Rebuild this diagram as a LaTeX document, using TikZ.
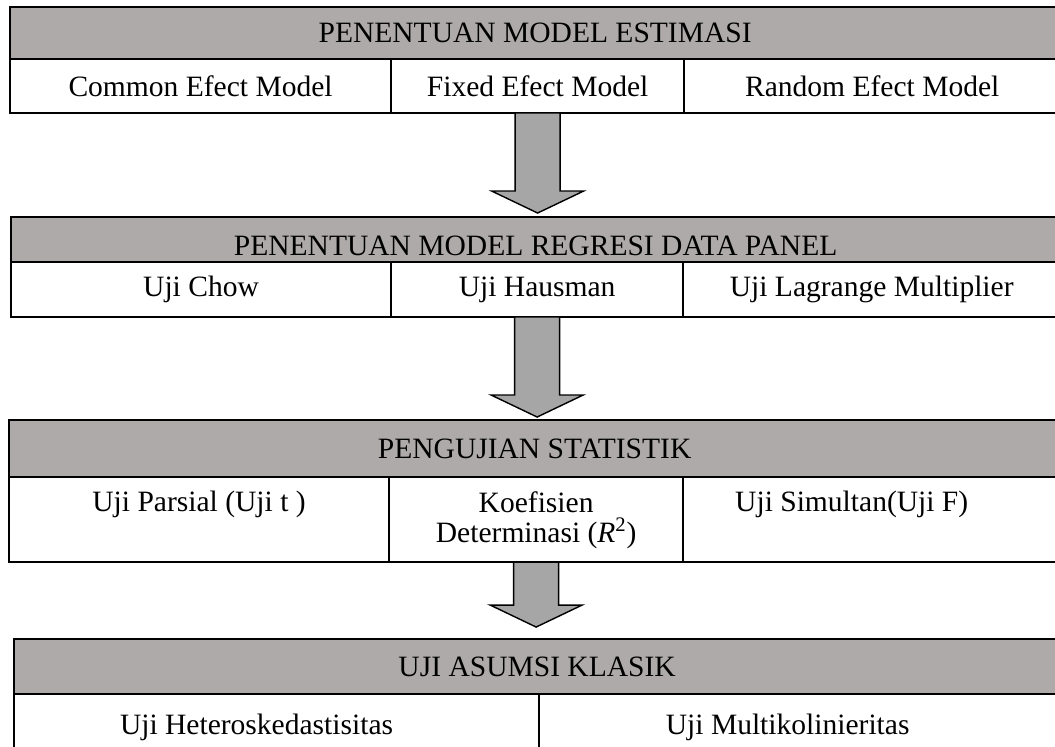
\documentclass[tikz,border=0pt]{standalone}
\usepackage{fontspec}
\setmainfont{Liberation Serif}
\definecolor{hdgray}{HTML}{AEAAAA}
\definecolor{arrgray}{HTML}{A6A6A6}
% #1 node above, #2 shaft length (px)
\newcommand{\bigarrow}[2]{%
 \draw[arrowshape] (#1.south) ++(-22.5,0) -- ++(0,#2) -- ++(-23.5,0)
  -- ++(46,22) -- ++(46,-22) -- ++(-23.5,0) -- ++(0,-#2) -- cycle;}

\begin{document}
\begin{tikzpicture}[x=0.025cm, y=-0.025cm,
 font=\fontsize{21}{21.5}\selectfont,
 head/.style={draw,line width=1.2pt,fill=hdgray,anchor=north west,
  outer sep=0pt,inner sep=0pt},
 cell/.style={draw,line width=1.2pt,fill=white,anchor=north west,
  outer sep=0pt,inner sep=0pt},
 toptext/.style={anchor=north,align=center,inner sep=0pt,yshift=-0.35cm},
 arrowshape/.style={draw,line width=1pt,fill=arrgray,line join=miter}]
 \useasboundingbox (0,0) rectangle (1055,746);
 \clip (0,0) rectangle (1055,746);
 % estimasi
 \node[head,minimum width=26.25cm,minimum height=1.3cm] (est) at (10,7)
  {PENENTUAN MODEL ESTIMASI};
 \node[cell,minimum width=9.525cm,minimum height=1.35cm] (cem) at (est.south west)
  {Common Efect Model};
 \node[cell,minimum width=7.325cm,minimum height=1.35cm] (fem) at (cem.north east)
  {Fixed Efect Model};
 \node[cell,minimum width=9.4cm,minimum height=1.35cm] (rem) at (fem.north east)
  {Random Efect Model};
 % regresi data panel
 \node[head,minimum width=26.225cm,minimum height=1.125cm,text height=0.82cm] (reg)
  at (11,217) {PENENTUAN MODEL REGRESI DATA PANEL};
 \node[cell,minimum width=9.5cm,minimum height=1.375cm] (chow) at (reg.south west)
  {Uji Chow};
 \node[cell,minimum width=7.3cm,minimum height=1.375cm] (haus) at (chow.north east)
  {Uji Hausman};
 \node[cell,minimum width=9.425cm,minimum height=1.375cm] (lm) at (haus.north east)
  {Uji Lagrange Multiplier};
 % statistik
 \node[head,minimum width=26.275cm,minimum height=1.425cm] (stat) at (9,420)
  {PENGUJIAN STATISTIK};
 \node[cell,minimum width=9.5cm,minimum height=2.125cm,
  label={[toptext]north:Uji Parsial (Uji t )}] (ujit) at (stat.south west) {};
 \node[cell,minimum width=7.35cm,minimum height=2.125cm,
  label={[toptext]north:Koefisien\\Determinasi (\textit{R}\textsuperscript{2})}] (rsq)
  at (ujit.north east) {};
 \node[cell,minimum width=9.425cm,minimum height=2.125cm,
  label={[toptext,xshift=-0.5cm]north:Uji Simultan(Uji F)}] (ujif) at (rsq.north east) {};
 % asumsi klasik
 \node[head,minimum width=26.15cm,minimum height=1.375cm] (asumsi) at (14,639)
  {UJI ASUMSI KLASIK};
 \node[cell,minimum width=13.125cm,minimum height=1.65cm,
  label={[xshift=-0.5cm]center:Uji Heteroskedastisitas}] (hetero) at (asumsi.south west) {};
 \node[cell,minimum width=13.025cm,minimum height=1.65cm,
  label={[xshift=-0.3cm]center:Uji Multikolinieritas}] (multi) at (hetero.north east) {};
 % arrows
 \bigarrow{fem}{78}
 \bigarrow{haus}{78}
 \bigarrow{rsq}{43}
\end{tikzpicture}
\end{document}
